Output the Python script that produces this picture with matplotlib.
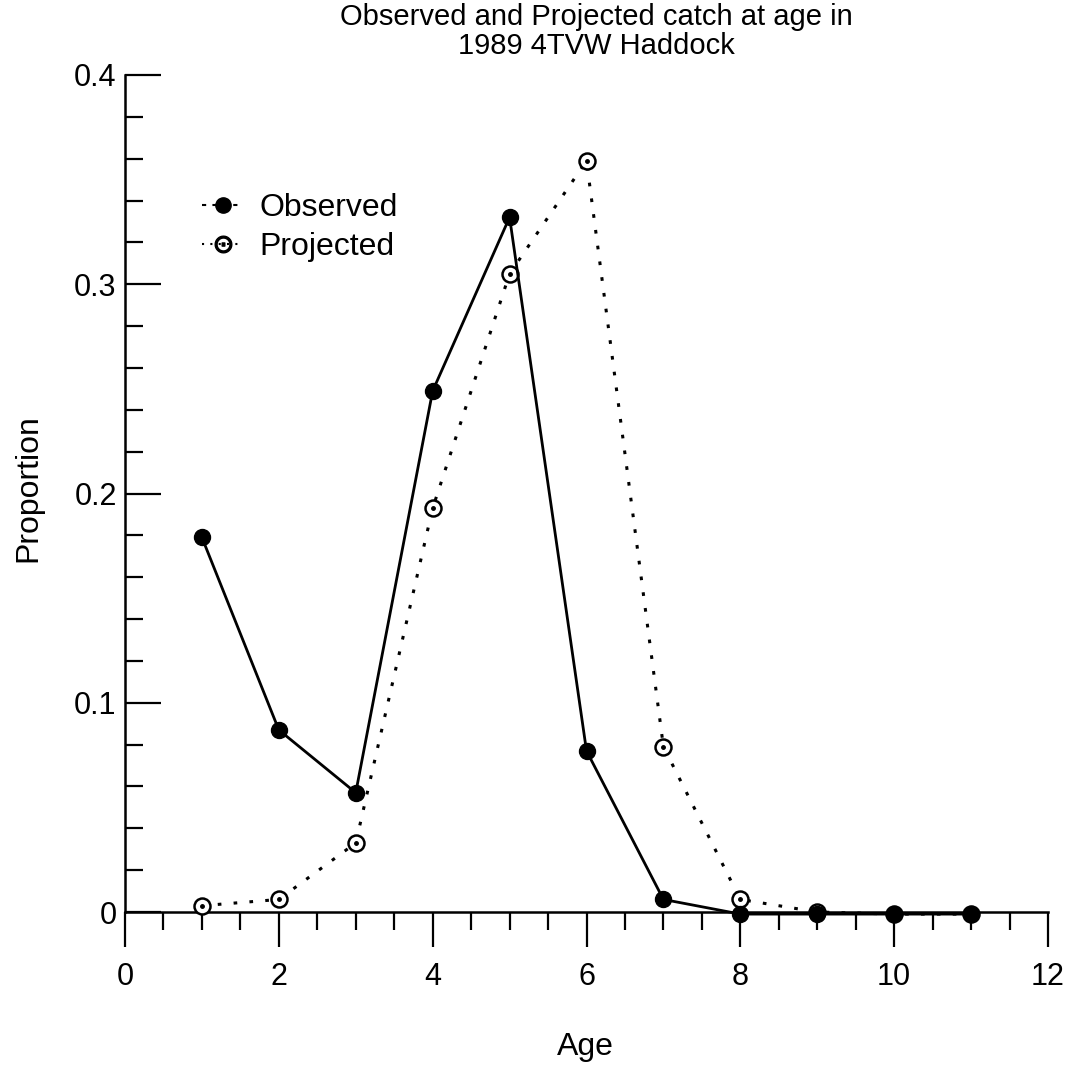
import matplotlib
matplotlib.use("Agg")
import matplotlib.pyplot as plt
from matplotlib.lines import Line2D
from matplotlib.ticker import MultipleLocator, FixedLocator

plt.rcParams['font.family'] = ['Liberation Sans', 'DejaVu Sans']

ages = [1, 2, 3, 4, 5, 6, 7, 8, 9, 10, 11]
observed = [0.179, 0.087, 0.057, 0.249, 0.332, 0.077, 0.006, -0.001, -0.001, -0.001, -0.001]
projected = [0.003, 0.006, 0.033, 0.193, 0.305, 0.359, 0.079, 0.006, 0.0, -0.001, -0.001]

x_ticks = [0, 2, 4, 6, 8, 10, 12]
x_ticklabels = ['0', '2', '4', '6', '8', '10', '12']
y_ticks = [0, 0.1, 0.2, 0.3, 0.4]
y_ticklabels = ['0', '0.1', '0.2', '0.3', '0.4']

title_lines = ["Observed and Projected catch at age in", "1989 4TVW Haddock"]

fig = plt.figure(figsize=(10.73, 10.74), dpi=100)
ax = fig.add_axes([125/1073, 1 - 912/1074, (1048-125)/1073, (912-75)/1074])

ax.plot(ages, projected, linestyle=(0, (1.2, 4)), color='black', lw=2.2,
        marker='o', markersize=11.5, markerfacecolor='white', markeredgecolor='black',
        markeredgewidth=1.8, zorder=3, clip_on=False)
ax.plot(ages, projected, linestyle='none', marker='.', markersize=5, color='black', zorder=4,
        clip_on=False)
ax.plot(ages, observed, linestyle='-', color='black', lw=2.0,
        marker='o', markersize=11.5, markerfacecolor='black', markeredgecolor='black',
        zorder=5, clip_on=False)

ax.set_xlim(0, 12)
ax.set_ylim(0, 0.4)
ax.spines['top'].set_visible(False)
ax.spines['right'].set_visible(False)
for s in ['left', 'bottom']:
    ax.spines[s].set_linewidth(1.8)

ax.xaxis.set_major_locator(FixedLocator(x_ticks))
ax.set_xticklabels(x_ticklabels)
ax.xaxis.set_minor_locator(MultipleLocator(0.5))
ax.yaxis.set_major_locator(FixedLocator(y_ticks))
ax.set_yticklabels(y_ticklabels)
ax.yaxis.set_minor_locator(MultipleLocator(0.02))

ax.tick_params(axis='x', which='major', direction='out', length=25, width=1.6,
               labelsize=22, pad=11)
ax.tick_params(axis='x', which='minor', direction='out', length=13, width=1.6)
ax.tick_params(axis='y', which='major', direction='in', length=26, width=1.6,
               labelsize=22, pad=6)
ax.tick_params(axis='y', which='minor', direction='in', length=13, width=1.6)

fig.text(28/1073, 1 - 488/1074, 'Proportion', rotation=90, ha='center', va='center', fontsize=23)
fig.text(585/1073, 1 - 1047/1074, 'Age', ha='center', va='center', fontsize=23)
fig.text(596/1073, 1 - 17/1074, title_lines[0], ha='center', va='center', fontsize=21)
fig.text(596/1073, 1 - 46/1074, title_lines[1], ha='center', va='center', fontsize=21)

handles = [
    Line2D([], [], color='black', linestyle=(0, (2, 3)), lw=1.5, marker='o', markersize=11,
           markerfacecolor='black'),
    Line2D([], [], color='black', linestyle=(0, (1, 3)), lw=1.5, marker='$\\odot$', markersize=12),
]
leg = ax.legend(handles, ['Observed', 'Projected'], loc='upper left',
                bbox_to_anchor=(64/923, 1 - 105/837), frameon=False, fontsize=23,
                handlelength=1.3, handletextpad=0.5, labelspacing=0.3, borderaxespad=0)

fig.savefig('out.png', dpi=100)
